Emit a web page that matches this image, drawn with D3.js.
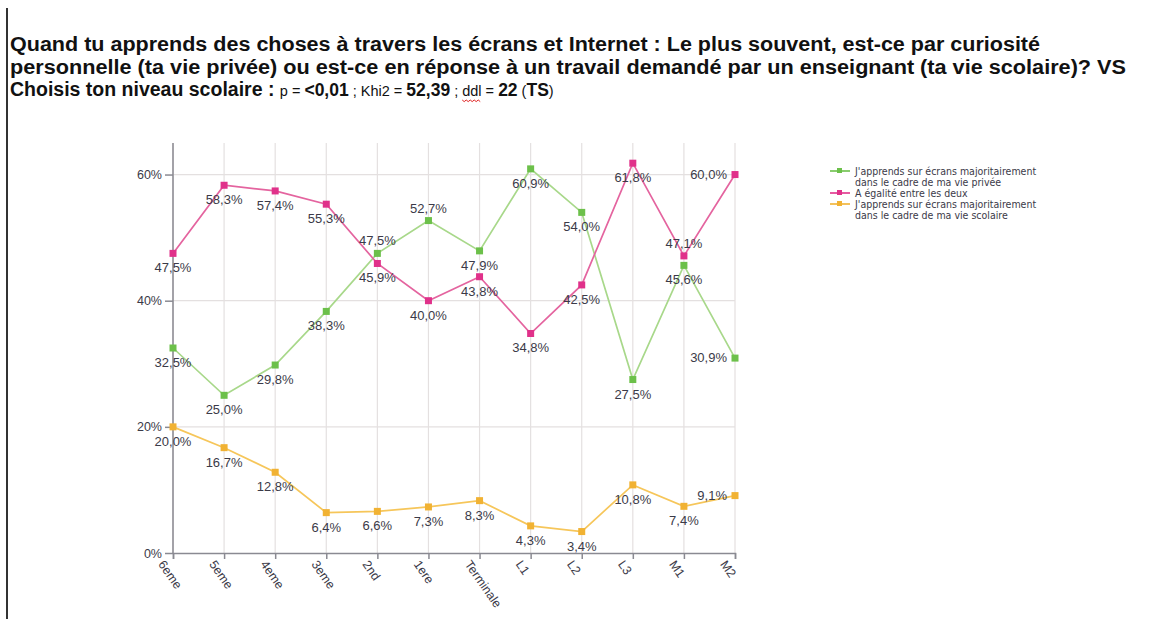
<!DOCTYPE html>
<html>
<head>
<meta charset="utf-8">
<script src="https://cdn.jsdelivr.net/npm/d3@7"></script>
<style>
  body { margin: 0; background: #fff; }
  svg { display: block; font-family: "Liberation Sans", Arial, sans-serif; }
</style>
</head>
<body>
<svg width="1166" height="619"></svg>
<script>
// niveaux scolaires
const categories = ["6eme", "5eme", "4eme", "3eme", "2nd", "1ere", "Terminale", "L1", "L2", "L3", "M1", "M2"];
// J'apprends ... vie privée
const privee = [32.5, 25.0, 29.8, 38.3, 47.5, 52.7, 47.9, 60.9, 54.0, 27.5, 45.6, 30.9];
// A égalité entre les deux
const egalite = [47.5, 58.3, 57.4, 55.3, 45.9, 40.0, 43.8, 34.8, 42.5, 61.8, 47.1, 60.0];
// J'apprends ... vie scolaire
const scolaire = [20.0, 16.7, 12.8, 6.4, 6.6, 7.3, 8.3, 4.3, 3.4, 10.8, 7.4, 9.1];
const yTicks = [0, 20, 40, 60];
const seriesNames = [
  ["J'apprends sur écrans majoritairement", "dans le cadre de ma vie privée"],
  ["A égalité entre les deux"],
  ["J'apprends sur écrans majoritairement", "dans le cadre de ma vie scolaire"]
];
// where the value label goes: b = below, a = above, l = left
const labelPos = [
  ["b","b","b","b","a","a","b","b","b","b","b","l"],
  ["b","b","b","b","b","b","b","b","b","b","a","l"],
  ["b","b","b","b","b","b","b","b","b","b","b","l"]
];

const series = [
  { values: privee, line: "#a8d88a", mark: "#6cc04a" },
  { values: egalite, line: "#e4649f", mark: "#e0318a" },
  { values: scolaire, line: "#f6c65a", mark: "#f1b233" }
];

const svg = d3.select("svg");
const txt = "#3b3a48";

// left border
svg.append("line").attr("x1", 7).attr("x2", 7).attr("y1", 8).attr("y2", 619)
  .attr("stroke", "#333").attr("stroke-width", 2);

// title
const title = svg.append("text").attr("fill", "#111");
title.append("tspan").attr("x", 10).attr("y", 51).attr("font-weight", "bold").attr("font-size", 20)
  .attr("textLength", 1030).attr("lengthAdjust", "spacingAndGlyphs")
  .text("Quand tu apprends des choses à travers les écrans et Internet : Le plus souvent, est-ce par curiosité");
title.append("tspan").attr("x", 10).attr("y", 74).attr("font-weight", "bold").attr("font-size", 20)
  .attr("textLength", 1116).attr("lengthAdjust", "spacingAndGlyphs")
  .text("personnelle (ta vie privée) ou est-ce en réponse à un travail demandé par un enseignant (ta vie scolaire)? VS");
const t3 = [
  ["Choisis ton niveau scolaire : ", true], ["p = ", false], ["<0,01", true], [" ; Khi2 = ", false],
  ["52,39", true], [" ; ", false], ["ddl", false], [" = ", false], ["22", true], [" (", false], ["TS", true], [")", false]
];
let ddlSpan = null;
t3.forEach((d, i) => {
  const s = title.append("tspan")
    .attr("font-weight", d[1] ? "bold" : "normal")
    .attr("font-size", i === 0 ? 19.5 : (d[1] ? 17.5 : 14.5))
    .text(d[0]);
  if (i === 0) s.attr("x", 10).attr("y", 96);
  if (d[0] === "ddl") ddlSpan = s.node();
});

// red wavy underline under "ddl" (spell checker mark)
if (ddlSpan) {
  const b = ddlSpan.getBBox();
  const pts = [];
  for (let xx = b.x; xx <= b.x + b.width; xx += 2) pts.push([xx, 100 + ((xx - b.x) / 2 % 2 === 0 ? 0 : 1.6)]);
  svg.append("path").attr("d", d3.line()(pts)).attr("fill", "none").attr("stroke", "#e02020").attr("stroke-width", 1);
}

const x = d3.scalePoint().domain(categories).range([173, 735]);
const y = d3.scaleLinear().domain([0, 65]).range([553, 143]);

const g = svg.append("g");

// grid
g.selectAll(".vg").data(categories).join("line")
  .attr("x1", d => x(d)).attr("x2", d => x(d)).attr("y1", y(65)).attr("y2", y(0))
  .attr("stroke", "#e4e0e0").attr("stroke-width", 1.2);
g.selectAll(".hg").data(yTicks.slice(1)).join("line")
  .attr("x1", x(categories[0])).attr("x2", x(categories[categories.length - 1]))
  .attr("y1", d => y(d)).attr("y2", d => y(d))
  .attr("stroke", "#e4e0e0").attr("stroke-width", 1.2);

// axes
const yAxis = g.append("g").attr("transform", `translate(${x(categories[0])},0)`)
  .call(d3.axisLeft(y).tickValues(yTicks).tickFormat(d => d + "%").tickSize(8).tickPadding(3));
yAxis.select(".domain").attr("d", `M0,${y(65)}V${y(0)}`);
const xAxis = g.append("g").attr("transform", `translate(0,${y(0)})`)
  .call(d3.axisBottom(x).tickSize(6).tickPadding(4));
[yAxis, xAxis].forEach(a => {
  a.selectAll(".domain, .tick line").attr("stroke", "#8a8a92").attr("stroke-width", 1.5);
  a.selectAll("text").attr("fill", txt).attr("font-size", 12.5).attr("font-family", "Liberation Sans, Arial, sans-serif");
});
xAxis.selectAll("text")
  .attr("text-anchor", "start").attr("dy", "0.35em")
  .attr("transform", "translate(-4,3) rotate(55)");

// lines, markers, value labels
const line = d3.line().x((d, i) => x(categories[i])).y(d => y(d));
series.forEach(s => {
  g.append("path").datum(s.values).attr("d", line)
    .attr("fill", "none").attr("stroke", s.line).attr("stroke-width", 1.7);
});
series.forEach(s => {
  g.selectAll(null).data(s.values).join("rect")
    .attr("x", (d, i) => x(categories[i]) - 3.5).attr("y", d => y(d) - 3.5)
    .attr("width", 7).attr("height", 7).attr("fill", s.mark);
});
series.forEach((s, si) => {
  g.selectAll(null).data(s.values).join("text")
    .attr("x", (d, i) => labelPos[si][i] === "l" ? x(categories[i]) - 8 : x(categories[i]))
    .attr("y", (d, i) => {
      const p = labelPos[si][i];
      if (p === "a") return y(d) - 8;
      if (p === "l") return y(d) + 4;
      return y(d) + 19;
    })
    .attr("text-anchor", (d, i) => labelPos[si][i] === "l" ? "end" : "middle")
    .attr("font-size", 13).attr("fill", txt)
    .text(d => d.toFixed(1).replace(".", ",") + "%");
});

// legend
const lg = svg.append("g").attr("font-family", "'Liberation Sans Narrow', 'DejaVu Sans Condensed', Arial, sans-serif");
let ly = 174;
series.forEach((s, si) => {
  lg.append("line").attr("x1", 830).attr("x2", 850).attr("y1", ly - 3).attr("y2", ly - 3)
    .attr("stroke", s.mark).attr("stroke-width", 1.6);
  lg.append("rect").attr("x", 837).attr("y", ly - 6).attr("width", 5).attr("height", 5).attr("fill", s.mark);
  seriesNames[si].forEach(t => {
    lg.append("text").attr("x", 855).attr("y", ly + 1).attr("font-size", 10.5).attr("fill", txt).text(t);
    ly += 11;
  });
});
</script>
</body>
</html>
